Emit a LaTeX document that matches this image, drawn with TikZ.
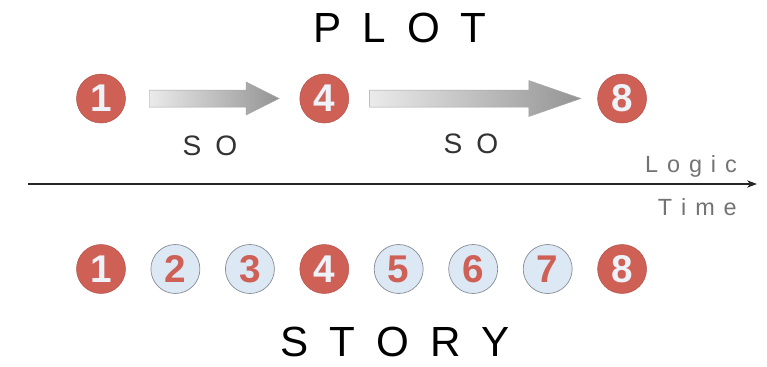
\documentclass[tikz,border=0pt]{standalone}
\usepackage{fontspec}
\setmainfont{Liberation Sans}
\usetikzlibrary{positioning,calc,arrows.meta}
\definecolor{plotred}{RGB}{206,96,86}
\definecolor{storyblue}{RGB}{221,232,245}
\definecolor{ringgray}{RGB}{135,140,150}
\definecolor{digitwhite}{RGB}{238,243,250}
\tikzset{event/.style={circle,minimum size=1.47cm,inner sep=0pt,
        font=\fontsize{33}{33}\selectfont\bfseries},
    keyevent/.style={event,fill=plotred,draw=plotred!85!black,text=digitwhite},
    minorevent/.style={event,fill=storyblue,draw=ringgray,text=plotred,line width=0.6pt},
    title/.style={font=\fontsize{36}{36}\selectfont,inner sep=0pt,anchor=base},
    axislabel/.style={font=\fontsize{20}{20}\selectfont,text=black!55,inner sep=0pt},
    solabel/.style={font=\fontsize{24}{24}\selectfont,text=black!80,inner sep=0pt,anchor=base},
    blockshade/.style={left color=black!8,right color=black!42,draw=black!35,line width=0.4pt}}
\newcommand\gap[1]{\hspace{#1em}}
% block arrow: start, tip, shaft half width, head half width, head length
\newcommand\blockarrow[5]{%
  \shade[blockshade] ($(#1)+(0,-#3)$) -- ($(#2)+(-#5,-#3)$) -- ($(#2)+(-#5,-#4)$)
    -- (#2) -- ($(#2)+(-#5,#4)$) -- ($(#2)+(-#5,#3)$) -- ($(#1)+(0,#3)$) -- cycle;}

\begin{document}
\begin{tikzpicture}[x=0.03cm,y=-0.03cm]
  \useasboundingbox (0,0) rectangle (767,366);
  % story row
  \node[keyevent] (s1) at (101,269) {1};
  \foreach \i/\kind [count=\prev] in {2/minorevent,3/minorevent,4/keyevent,
      5/minorevent,6/minorevent,7/minorevent,8/keyevent}
    \node[\kind,right=0.744cm of s\prev] (s\i) {\i};
  % plot row
  \node[keyevent,above=3.63cm of s1] (p1) {1};
  \node[keyevent,above=3.63cm of s4] (p4) {4};
  \node[keyevent,above=3.63cm of s8] (p8) {8};
  \coordinate (a1) at ($(p1.east)+(23.5,0)$);
  \coordinate (b1) at ($(p4.west)+(-20.5,0)$);
  \coordinate (a2) at ($(p4.east)+(20.5,0)$);
  \coordinate (b2) at ($(p8.west)+(-16.5,0)$);
  \blockarrow{a1}{b1}{8.5}{16.5}{33}
  \blockarrow{a2}{b2}{8.5}{18}{52}
  \node[solabel] (so1) at (210,155) {S\gap{.5}O};
  \node[solabel] (so2) at (471,153) {S\gap{.5}O};
  % time axis
  \coordinate (t0) at (28,184);
  \coordinate (t1) at (757,184);
  \draw[black!85,line width=1pt,-{Stealth[length=0.3cm,width=0.22cm]}] (t0) -- (t1);
  \node[axislabel,anchor=base east] (logic) at (737,172)
    {L\gap{.38}o\gap{.38}g\gap{.38}i\gap{.38}c};
  \node[axislabel,anchor=base east] (time) at (737,215)
    {T\gap{.38}i\gap{.38}m\gap{.38}e};
  % titles
  \node[title] (plot) at (400,43) {P\gap{.5}L\gap{.5}O\gap{.5}T};
  \node[title] (story) at (395,356) {S\gap{.5}T\gap{.5}O\gap{.5}R\gap{.5}Y};
\end{tikzpicture}
\end{document}
